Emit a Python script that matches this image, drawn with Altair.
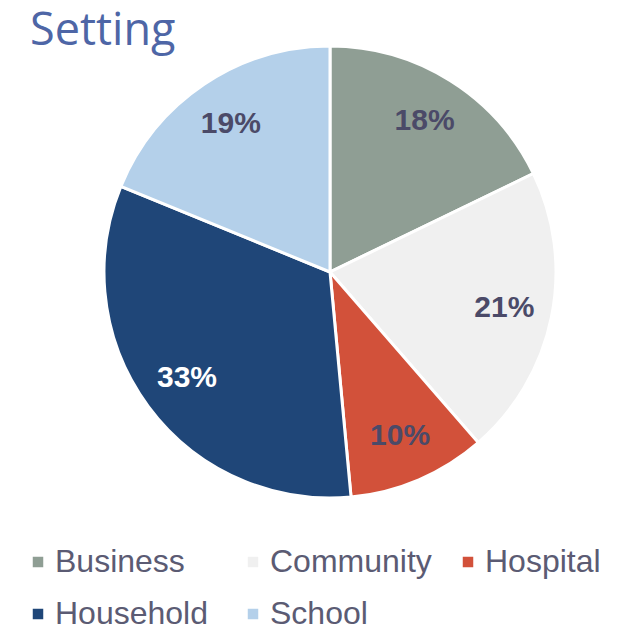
import altair as alt
import pandas as pd

settings = ["Business", "Community", "Hospital", "Household", "School"]
shares = [18, 21, 10, 33, 19]
labels = ["18%", "21%", "10%", "33%", "19%"]
colors = ["#8f9e94", "#f0f0f0", "#d2513a", "#1f4678", "#b4d0ea"]

df = pd.DataFrame({
    "setting": settings,
    "share": shares,
    "label": labels,
    "idx": list(range(len(settings))),
})

CX, CY = 322, 264
R = 226

base = alt.Chart(df).encode(
    theta=alt.Theta("share:Q", stack=True),
    order=alt.Order("idx:Q"),
)

pie = base.mark_arc(outerRadius=R, stroke="white", strokeWidth=3).encode(
    x=alt.value(CX),
    y=alt.value(CY),
    color=alt.Color(
        "setting:N",
        scale=alt.Scale(domain=settings, range=colors),
        sort=settings,
        legend=alt.Legend(
            title=None,
            orient="none",
            legendX=14,
            legendY=538,
            direction="horizontal",
            columns=3,
            gridAlign="all",
            columnPadding=20,
            rowPadding=20,
            symbolType="square",
            symbolSize=110,
            symbolStrokeWidth=0,
            labelFont="Liberation Sans",
            labelFontSize=32,
            labelColor="#5b5b73",
            labelOffset=1,
            labelLimit=300,
            padding=0,
        ),
    ),
)

text = base.mark_text(
    radius=178, font="Liberation Sans", fontSize=30, fontWeight="bold"
).encode(
    x=alt.value(CX),
    y=alt.value(CY),
    text="label:N",
    color=alt.condition(
        alt.datum.setting == "Household", alt.value("white"), alt.value("#4b4a68")
    ),
)

title_df = pd.DataFrame({"t": ["Setting"]})
title = alt.Chart(title_df).mark_text(
    font="Open Sans", fontSize=45, color="#4e66a6", align="left", baseline="top"
).encode(text="t:N", x=alt.value(22), y=alt.value(1))

chart = alt.layer(pie, text, title).properties(
    width=620, height=623, autosize=alt.AutoSizeParams(type="none"), padding=0
).configure_view(stroke=None)

chart.save("out.html", embed_options={"renderer": "svg", "actions": False})
